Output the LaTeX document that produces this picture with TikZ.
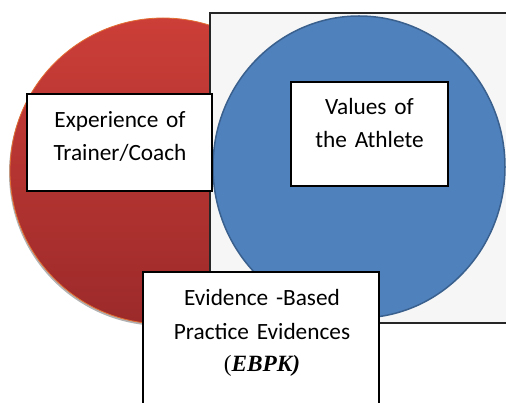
\documentclass[tikz,border=0pt]{standalone}
\usepackage{fontspec}
\setmainfont{Carlito}
\newfontfamily\ebpkfont{Liberation Serif}
\definecolor{redtop}{RGB}{204,62,56}
\definecolor{redbot}{RGB}{156,42,42}
\definecolor{redrim}{RGB}{226,110,50}
\definecolor{bluefill}{RGB}{79,129,189}
\definecolor{blueedge}{RGB}{58,96,142}
\definecolor{panelfill}{RGB}{246,246,246}
\tikzset{
  txtbox/.style={draw=black, line width=1.2pt, fill=white, inner sep=0pt},
  boxtext/.style={align=center, text width=240pt, inner sep=0pt, anchor=base,
    font=\fontsize{23.3}{33}\selectfont},
}
\begin{document}
\begin{tikzpicture}[x=1pt,y=-1pt]
  \useasboundingbox (0,0) rectangle (506,403);
  \clip (0,0) rectangle (506,403);
  % left circle, with its shadow
  \fill[gray!60] (162,173) circle (153pt);
  \shade[top color=redtop, bottom color=redbot, draw=redrim, line width=0.8pt]
    (163,171) circle (153pt);
  % panel behind the right circle
  \draw[fill=panelfill, draw=black!85, line width=1.2pt] (210,13) rectangle (508,323);
  \draw[fill=bluefill, draw=blueedge, line width=1.5pt] (359,167) ellipse (146pt and 151pt);
  % boxes
  \node[txtbox, minimum width=185pt, minimum height=97pt] (trainer) at (119.5,142.5) {};
  \node[txtbox, minimum width=157pt, minimum height=104pt] (athlete) at (369.5,134) {};
  \node[txtbox, minimum width=236pt, minimum height=150pt] (ebpk) at (261,347) {};
  \node[boxtext] (trainertext) at (120,127.7) {Experience of\\Trainer/Coach};
  \node[boxtext] (athletetext) at (369.5,115) {Values of\\the Athlete};
  \node[boxtext] (ebpktext) at (262,306) {Evidence -Based\\Practice Evidences\\{\ebpkfont(\textbf{\itshape EBPK)}}};
\end{tikzpicture}
\end{document}
